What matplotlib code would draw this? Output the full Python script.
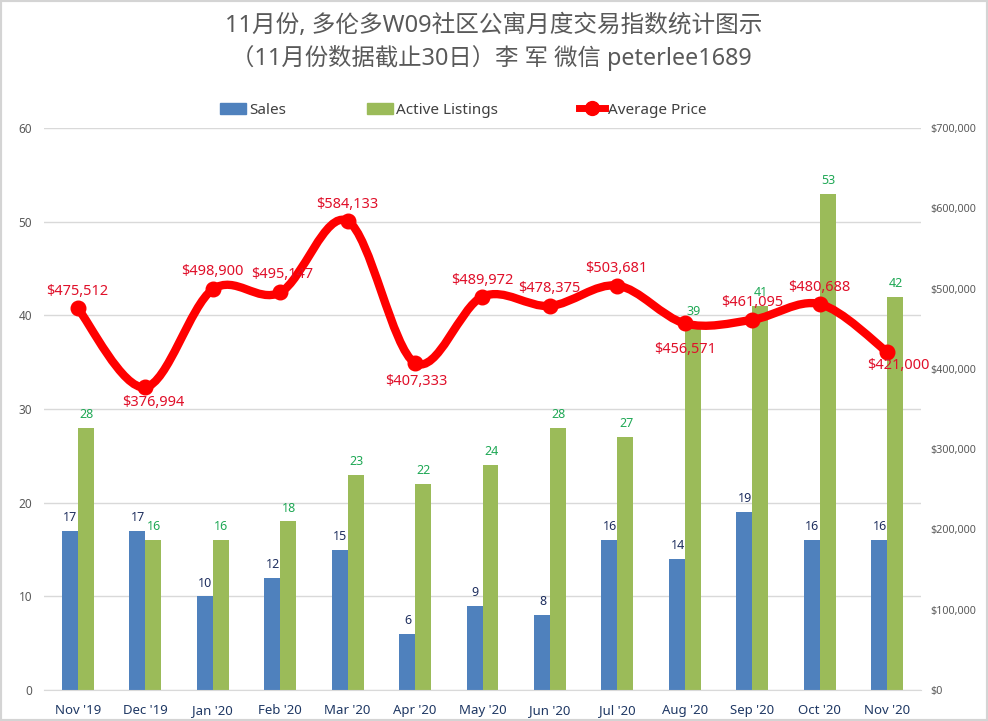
import numpy as np
import matplotlib
matplotlib.use('Agg')
import matplotlib.pyplot as plt
from matplotlib.path import Path
from matplotlib.patches import PathPatch, Rectangle
from matplotlib.lines import Line2D

plt.rcParams['font.family'] = ['Noto Sans', 'Noto Sans CJK SC', 'DejaVu Sans']

months = ["Nov '19", "Dec '19", "Jan '20", "Feb '20", "Mar '20", "Apr '20", "May '20",
          "Jun '20", "Jul '20", "Aug '20", "Sep '20", "Oct '20", "Nov '20"]
sales = [17, 17, 10, 12, 15, 6, 9, 8, 16, 14, 19, 16, 16]
listings = [28, 16, 16, 18, 23, 22, 24, 28, 27, 39, 41, 53, 42]
prices = [475512, 376994, 498900, 495147, 584133, 407333, 489972,
          478375, 503681, 456571, 461095, 480688, 421000]
# label offsets from the point, in pixels
price_off = [(-1, 17), (8, -15), (0, 18), (2, 18), (0, 17), (1, -19), (0, 16),
             (-1, 17), (-1, 17), (0, -26), (0, 17), (-1, 17), (11, -14)]

W, H = 988, 721
fig = plt.figure(figsize=(W/100, H/100), dpi=100)
ax = fig.add_axes([44/W, 1-690/H, 877/W, 562/H])
ax2 = ax.twinx()
ax.set_zorder(1)
ax2.set_zorder(2)
ax2.patch.set_visible(False)

x = np.arange(len(months))
bw = 0.237
ax.bar(x-bw/2, sales, bw, color='#4f81bd')
ax.bar(x+bw/2, listings, bw, color='#9bbb59')
ax.set_xlim(-0.5, 12.5)
ax.set_ylim(0, 60)
ax.set_yticks(range(0, 61, 10))
ax.grid(axis='y', color='#d9d9d9', lw=1)
ax.set_axisbelow(True)
ax.set_xticks(x, months)
ax.tick_params(axis='x', length=0, labelsize=9.5, labelcolor='#1f3864', pad=10)
ax.tick_params(axis='y', length=0, labelsize=8.5, labelcolor='#595959', pad=8.5)
for s in ['top', 'left', 'right']:
    ax.spines[s].set_visible(False)
    ax2.spines[s].set_visible(False)
ax.spines['bottom'].set_color('#d9d9d9')
ax2.spines['bottom'].set_visible(False)

for i in x:
    ax.annotate(str(sales[i]), (i-bw/2+0.01, sales[i]), xytext=(0, 7), textcoords='offset points',
                ha='center', fontsize=9, color='#1f2f5f')
    ax.annotate(str(listings[i]), (i+bw/2+0.01, listings[i]), xytext=(0, 7), textcoords='offset points',
                ha='center', fontsize=9, color='#1fa855')

ax2.set_ylim(0, 700000)
ax2.set_yticks(range(0, 700001, 100000))
ax2.set_yticklabels(['$' + format(v, ',') for v in range(0, 700001, 100000)])
ax2.tick_params(axis='y', length=0, labelsize=7.7, labelcolor='#595959', pad=7)

# smoothed line, same idea as the excel one: catmull-rom to bezier
p = np.array(prices, dtype=float)
verts = [(x[0], p[0])]
codes = [Path.MOVETO]
for i in range(len(p)-1):
    a = max(i-1, 0)
    b = min(i+2, len(p)-1)
    verts += [(x[i]+(x[i+1]-x[a])/6, p[i]+(p[i+1]-p[a])/6),
              (x[i+1]-(x[b]-x[i])/6, p[i+1]-(p[b]-p[i])/6),
              (x[i+1], p[i+1])]
    codes += [Path.CURVE4]*3
ax2.add_patch(PathPatch(Path(verts, codes), fc='none', ec='#ff0000', lw=6, capstyle='round'))
ax2.plot(x, p, ls='none', marker='o', ms=10.5, color='#ff0000')

for i in x:
    ax2.annotate('$' + format(prices[i], ','), (i, prices[i]), xytext=price_off[i],
                 textcoords='offset pixels', ha='center', va='center',
                 fontsize=10.5, color='#e0102a', zorder=6)

fig.text(0.5, 1-26/H, '11月份, 多伦多W09社区公寓月度交易指数统计图示', ha='center', va='center',
         fontsize=17, color='#595959')
fig.text(0.497, 1-58/H, '（11月份数据截止30日）李 军 微信 peterlee1689', ha='center', va='center',
         fontsize=16.8, color='#595959')

# legend
handles = [Rectangle((0, 0), 1, 1, color='#4f81bd'), Rectangle((0, 0), 1, 1, color='#9bbb59'),
           Line2D([], [], color='#ff0000', lw=5, marker='o', ms=10)]
fig.legend(handles, ['Sales', 'Active Listings', 'Average Price'], loc='center',
           bbox_to_anchor=(463/W, 1-110/H), ncol=3, frameon=False, fontsize=11,
           columnspacing=5.3, handlelength=1.7, handletextpad=0.2, labelcolor='#404040')

fig.add_artist(Rectangle((0, 0), 1, 1, transform=fig.transFigure, fc='none', ec='#d4d4d4', lw=3))
fig.savefig('out.png', dpi=100)
